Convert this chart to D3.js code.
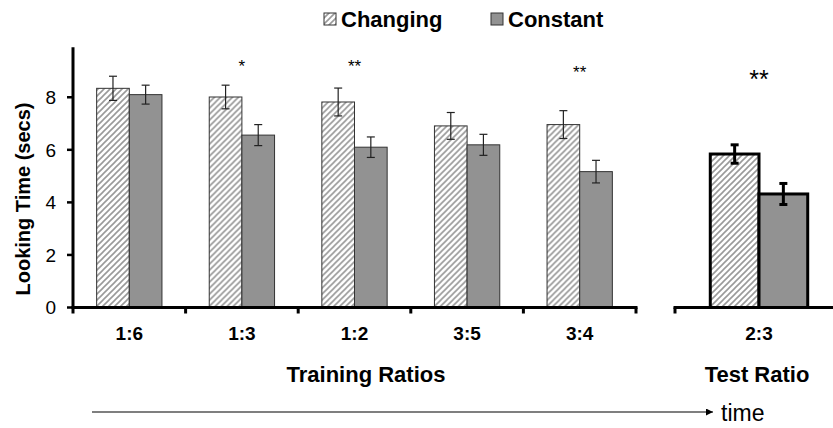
<!DOCTYPE html>
<html lang="en">
<head>
<meta charset="UTF-8">
<title>Looking Time</title>
<script src="https://cdnjs.cloudflare.com/ajax/libs/d3/7.8.5/d3.min.js"></script>
<style>
body { margin: 0; background: #fff; }
text { font-family: Arial, "Liberation Sans", sans-serif; }
</style>
</head>
<body>
<svg id="chart" width="833" height="428"></svg>
<script>
var trainCats = ["1:6", "1:3", "1:2", "3:5", "3:4"];
var testCats = ["2:3"];
var series = ["Changing", "Constant"];

var changing = [8.34, 8.01, 7.82, 6.91, 6.96];
var changingErr = [0.46, 0.45, 0.53, 0.51, 0.53];
var constant = [8.10, 6.56, 6.10, 6.19, 5.17];
var constantErr = [0.36, 0.40, 0.39, 0.40, 0.43];

var testChanging = [5.84];
var testChangingErr = [0.35];
var testConstant = [4.32];
var testConstantErr = [0.40];

var trainStars = ["", "*", "**", "", "**"];
var trainStarY = [0, 9.4, 9.4, 0, 9.2];
var testStars = ["**"];
var testStarY = [9.05];

var yTicks = [0, 2, 4, 6, 8];

var svg = d3.select("#chart");

var y = d3.scaleLinear().domain([0, 10]).range([307.5, 44.7]);

var xTrain = d3.scaleBand().domain(trainCats).range([73, 636]).padding(0);
var xTest = d3.scaleBand().domain(testCats).range([675, 843]).padding(0);

// hatch for "Changing"
var defs = svg.append("defs");
var pat = defs.append("pattern")
	.attr("id", "hatch")
	.attr("patternUnits", "userSpaceOnUse")
	.attr("width", 6)
	.attr("height", 6);
pat.append("rect").attr("width", 6).attr("height", 6).attr("fill", "#fff");
pat.append("path")
	.attr("d", "M-1,7 L7,-1 M-4,4 L4,-4 M2,10 L10,2")
	.attr("stroke", "#9a9a9a")
	.attr("stroke-width", 1.6);

var constFill = "#929292";

function drawPanel(xs, cats, vals1, err1, vals2, err2, bold) {
	var inner = d3.scaleBand().domain(series)
		.range([xs.bandwidth() * 0.21, xs.bandwidth() * 0.79]);
	var g = svg.append("g");
	var rows = cats.map((c, i) => ({ c: c, v: [vals1[i], vals2[i]], e: [err1[i], err2[i]] }));
	var grp = g.selectAll("g.cat").data(rows).enter().append("g")
		.attr("transform", d => "translate(" + xs(d.c) + ",0)");

	grp.selectAll("rect").data(d => series.map((s, k) => ({ s: s, v: d.v[k], e: d.e[k] })))
		.enter().append("rect")
		.attr("x", d => inner(d.s))
		.attr("width", inner.bandwidth())
		.attr("y", d => y(d.v))
		.attr("height", d => y(0) - y(d.v))
		.attr("fill", d => d.s == "Changing" ? "url(#hatch)" : constFill)
		.attr("stroke", bold ? "#000" : "#333")
		.attr("stroke-width", bold ? 3 : 1);

	var eb = grp.selectAll("g.err").data(d => series.map((s, k) => ({ s: s, v: d.v[k], e: d.e[k] })))
		.enter().append("g")
		.attr("stroke", bold ? "#000" : "#222")
		.attr("stroke-width", bold ? 3 : 1.2);
	var cap = 4;
	eb.append("line")
		.attr("x1", d => inner(d.s) + inner.bandwidth() / 2)
		.attr("x2", d => inner(d.s) + inner.bandwidth() / 2)
		.attr("y1", d => y(d.v + d.e))
		.attr("y2", d => y(d.v - d.e));
	eb.append("line")
		.attr("x1", d => inner(d.s) + inner.bandwidth() / 2 - cap)
		.attr("x2", d => inner(d.s) + inner.bandwidth() / 2 + cap)
		.attr("y1", d => y(d.v + d.e))
		.attr("y2", d => y(d.v + d.e));
	eb.append("line")
		.attr("x1", d => inner(d.s) + inner.bandwidth() / 2 - cap)
		.attr("x2", d => inner(d.s) + inner.bandwidth() / 2 + cap)
		.attr("y1", d => y(d.v - d.e))
		.attr("y2", d => y(d.v - d.e));

	// x axis with ticks at category edges
	var r = xs.range();
	var edges = cats.map(c => xs(c)).concat([r[1]]);
	var ax = svg.append("g").attr("stroke", "#000").attr("stroke-width", 3);
	ax.append("line").attr("x1", r[0] - 1.5).attr("x2", r[1] + 1.5)
		.attr("y1", y(0)).attr("y2", y(0));
	ax.selectAll("line.tk").data(edges).enter().append("line")
		.attr("x1", d => d).attr("x2", d => d)
		.attr("y1", y(0)).attr("y2", y(0) + 6);

	svg.append("g").selectAll("text").data(cats).enter().append("text")
		.attr("x", d => xs(d) + xs.bandwidth() / 2)
		.attr("y", 340)
		.attr("text-anchor", "middle")
		.attr("font-size", 19)
		.attr("font-weight", "bold")
		.text(d => d);
}

drawPanel(xTrain, trainCats, changing, changingErr, constant, constantErr, false);
drawPanel(xTest, testCats, testChanging, testChangingErr, testConstant, testConstantErr, true);

// y axis
svg.append("line")
	.attr("x1", 73).attr("x2", 73)
	.attr("y1", y(9.9)).attr("y2", y(0))
	.attr("stroke", "#000").attr("stroke-width", 3);
svg.append("g").selectAll("line").data(yTicks).enter().append("line")
	.attr("x1", 67).attr("x2", 73)
	.attr("y1", d => y(d)).attr("y2", d => y(d))
	.attr("stroke", "#000").attr("stroke-width", 2.5);
svg.append("g").selectAll("text").data(yTicks).enter().append("text")
	.attr("x", 56)
	.attr("y", d => y(d))
	.attr("dy", "0.36em")
	.attr("text-anchor", "end")
	.attr("font-size", 19)
	.text(d => d);

svg.append("text")
	.attr("transform", "translate(30,199) rotate(-90)")
	.attr("text-anchor", "middle")
	.attr("font-size", 20)
	.attr("font-weight", "bold")
	.text("Looking Time (secs)");

// significance stars
svg.append("g").selectAll("text").data(trainCats).enter().append("text")
	.attr("x", d => xTrain(d) + xTrain.bandwidth() / 2)
	.attr("y", (d, i) => y(trainStarY[i]))
	.attr("dy", "0.7em")
	.attr("text-anchor", "middle")
	.attr("font-size", 17)
	.text((d, i) => trainStars[i]);
svg.append("g").selectAll("text").data(testCats).enter().append("text")
	.attr("x", d => xTest(d) + xTest.bandwidth() / 2)
	.attr("y", (d, i) => y(testStarY[i]))
	.attr("dy", "0.75em")
	.attr("text-anchor", "middle")
	.attr("font-size", 25)
	.text((d, i) => testStars[i]);

// panel titles
svg.append("text")
	.attr("x", 366).attr("y", 382)
	.attr("text-anchor", "middle")
	.attr("font-size", 22).attr("font-weight", "bold")
	.text("Training Ratios");
svg.append("text")
	.attr("x", 757).attr("y", 382)
	.attr("text-anchor", "middle")
	.attr("font-size", 22).attr("font-weight", "bold")
	.text("Test Ratio");

// time arrow
defs.append("marker")
	.attr("id", "arrow")
	.attr("viewBox", "0 0 10 10")
	.attr("refX", 10).attr("refY", 5)
	.attr("markerWidth", 7).attr("markerHeight", 7)
	.attr("markerUnits", "userSpaceOnUse")
	.attr("orient", "auto")
	.append("path").attr("d", "M0,0 L10,5 L0,10 z").attr("fill", "#000");
svg.append("line")
	.attr("x1", 92).attr("x2", 713)
	.attr("y1", 412).attr("y2", 412)
	.attr("stroke", "#000").attr("stroke-width", 1.2)
	.attr("marker-end", "url(#arrow)");
svg.append("text")
	.attr("x", 721).attr("y", 421)
	.attr("font-size", 23)
	.text("time");

// legend
var legend = svg.append("g").selectAll("g").data(series).enter().append("g")
	.attr("transform", (d, i) => "translate(" + [324, 491][i] + ",0)");
legend.append("rect")
	.attr("x", 0).attr("y", 13)
	.attr("width", 12).attr("height", 12)
	.attr("fill", d => d == "Changing" ? "url(#hatch)" : constFill)
	.attr("stroke", "#333").attr("stroke-width", 1);
legend.append("text")
	.attr("x", 17).attr("y", 27)
	.attr("font-size", 22).attr("font-weight", "bold")
	.text(d => d);
</script>
</body>
</html>
